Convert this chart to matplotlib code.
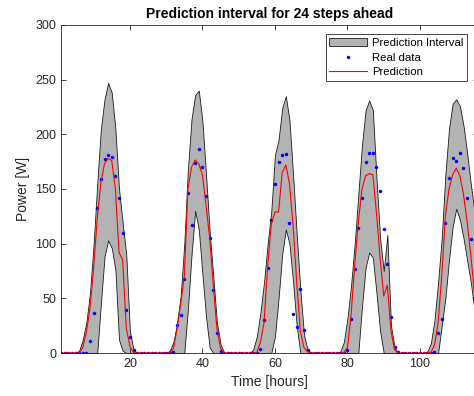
import numpy as np
import matplotlib
matplotlib.use("Agg")
import matplotlib.pyplot as plt

plt.rcParams["font.family"] = ["Liberation Sans", "DejaVu Sans"]

# hourly data
hours = np.arange(1, 121)

real_data = [
    0, 0, 0, 0, 0, 0, 0, 0, 11, 37, 133, 159, 177, 181, 179, 162, 142, 110, 39, 15,
    2.5, 0, 0, 0, 0, 0, 0, 0, 0, 0, 0, 1.2, 25.6, 34.8, 67.7, 146.6, 116.8, 174, 187, 170,
    144, 105, 57.5, 18, 2, 0, 0, 0, 0, 0, 0, 0, 0, 0, 0, 3.4, 30.5, 77.5, 122, 155,
    174.7, 181.5, 182, 118.8, 35.7, 23.5, 58.2, 20.6, 2.5, 0, 0, 0, 0, 0, 0, 0, 0, 0, 0, 2.4,
    31.4, 76.5, 114, 142, 175, 182.5, 182.5, 170, 148, 113, 81, 32.6, 5.8, 0.5, 0, 0, 0, 0, 0, 0,
    0, 0, 0, 1.2, 18, 30.8, 118.6, 160, 178, 175.6, 182.6, 169, 142, 104, 50, 16, 2, 0, 0, 0,
]

prediction = [
    0, 0, 0, 0, 0, 0, 5, 19, 41, 78, 123, 156, 173, 178, 176, 150, 92, 85, 23, 6,
    0.5, 0, 0, 0, 0, 0, 0, 0, 0, 0, 0, 4, 22, 45, 70, 150, 170, 176.5, 173, 163,
    135, 105, 62, 22, 4, 0, 0, 0, 0, 0, 0, 0, 0, 0, 0.5, 10, 28, 80, 118, 129,
    129, 165, 172, 155, 117, 65, 20, 5, 1, 0, 0, 0, 0, 0, 0, 0, 0, 0, 0.5, 5,
    35, 80, 120, 150, 162, 164, 163, 128, 87, 52, 62, 20, 3, 0, 0, 0, 0, 0, 0, 0,
    0, 0, 0.5, 7, 28, 70, 125, 150, 163, 169, 162, 145, 120, 90, 55, 20, 3, 0, 0, 0,
]

upper = [
    0, 0, 0, 0, 0, 2, 12, 28, 55, 100, 155, 205, 232, 247, 238, 205, 150, 119, 90, 20,
    3, 0, 0, 0, 0, 0, 0, 0, 0, 0, 2, 10, 27, 52, 100, 168, 214, 236, 240, 212,
    163, 111, 70, 28, 8, 0, 0, 0, 0, 0, 0, 0, 0, 3, 15, 37, 65, 100, 130, 181,
    195, 224, 235, 213, 163, 109, 58, 17, 3, 0, 0, 0, 0, 0, 0, 0, 0, 1, 10, 32,
    62, 100, 145, 190, 222, 231, 222, 160, 105, 75, 108, 25, 5, 0, 0, 0, 0, 0, 0, 0,
    0, 1, 9, 30, 65, 105, 163, 205, 228, 232, 226, 208, 183, 155, 130, 80, 30, 5, 0, 0,
]

lower = [
    0, 0, 0, 0, 0, 0, 0, 0, 0, 0, 0, 45, 88, 103, 96, 76, 12, 2, 0, 0,
    0, 0, 0, 0, 0, 0, 0, 0, 0, 0, 0, 0, 0, 0, 0, 40, 90, 130, 113, 72,
    33, 5, 0, 0, 0, 0, 0, 0, 0, 0, 0, 0, 0, 0, 0, 0, 0, 0, 0, 15,
    50, 90, 113, 100, 65, 25, 0, 0, 0, 0, 0, 0, 0, 0, 0, 0, 0, 0, 0, 0,
    0, 0, 0, 42, 78, 92, 87, 55, 20, 0, 0, 0, 0, 0, 0, 0, 0, 0, 0, 0,
    0, 0, 0, 0, 0, 25, 50, 85, 115, 132, 122, 105, 85, 65, 40, 10, 0, 0, 0, 0,
]

y_ticks = [0, 50, 100, 150, 200, 250, 300]
x_ticks = [20, 40, 60, 80, 100, 120]

fig = plt.figure(figsize=(4.74, 3.96), dpi=100)
# axes runs past the right edge, like the cropped original
ax = fig.add_axes([61 / 474, 43 / 396, 417 / 474, 328 / 396])

ax.fill_between(hours, lower, upper, facecolor="#b3b3b3", edgecolor="#1a1a1a",
                linewidth=0.6, label="Prediction Interval")
ax.plot(hours, real_data, "o", color="blue", markersize=2.5, markeredgewidth=0,
        label="Real data")
ax.plot(hours, prediction, color="red", linewidth=0.8, label="Prediction")

ax.set_xticks(x_ticks)
ax.set_yticks(y_ticks)
ax.set_xlim(1, 116)
ax.set_ylim(0, 300)

dark = "#262626"
for s in ax.spines.values():
    s.set_color(dark)
    s.set_linewidth(0.6)
ax.tick_params(direction="in", length=3.5, width=0.6, colors=dark,
               labelsize=9, top=True, right=True)

ax.set_title("Prediction interval for 24 steps ahead", fontsize=10,
             fontweight="bold", pad=5, color="black")
ax.set_xlabel("Time [hours]", fontsize=10, color=dark, labelpad=4)
ax.set_ylabel("Power [W]", fontsize=10, color=dark, labelpad=4)

leg = ax.legend(loc="upper right", bbox_to_anchor=(467 / 474, 1 - 34 / 396),
                bbox_transform=fig.transFigure, fontsize=8.2, handlelength=3.3,
                handletextpad=0.4, borderpad=0.35, labelspacing=0.4,
                fancybox=False, framealpha=1, borderaxespad=0)
leg.get_frame().set_edgecolor(dark)
leg.get_frame().set_linewidth(0.6)

fig.savefig("out.png", dpi=100)
